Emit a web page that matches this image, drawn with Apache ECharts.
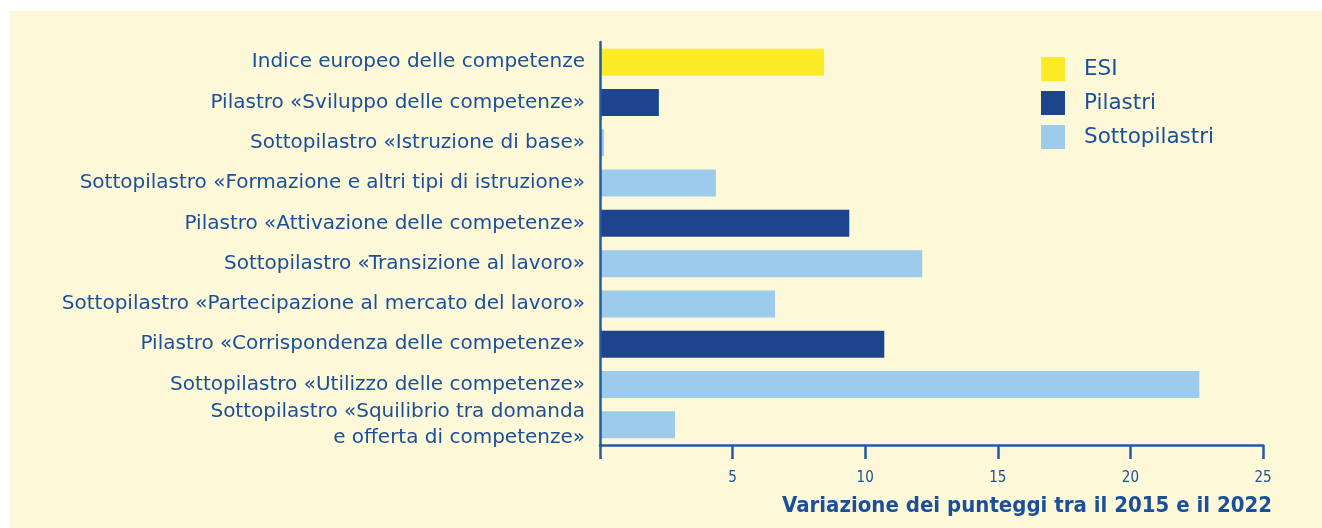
<!DOCTYPE html>
<html>
<head>
<meta charset="utf-8">
<script src="https://cdn.jsdelivr.net/npm/echarts@6/dist/echarts.min.js"></script>
<style>
  html, body { margin:0; padding:0; background:#ffffff; width:1322px; height:528px; overflow:hidden; }
  #bg { position:absolute; left:10px; top:11px; width:1312px; height:517px; background:#fdf9d8; }
  #chart { position:absolute; left:0; top:0; width:1322px; height:528px; }
</style>
</head>
<body>
<div id="bg"></div>
<div id="chart"></div>
<script>
const categories = [
  'Indice europeo delle competenze',
  'Pilastro «Sviluppo delle competenze»',
  'Sottopilastro «Istruzione di base»',
  'Sottopilastro «Formazione e altri tipi di istruzione»',
  'Pilastro «Attivazione delle competenze»',
  'Sottopilastro «Transizione al lavoro»',
  'Sottopilastro «Partecipazione al mercato del lavoro»',
  'Pilastro «Corrispondenza delle competenze»',
  'Sottopilastro «Utilizzo delle competenze»',
  'Sottopilastro «Squilibrio tra domanda\ne offerta di competenze»'
];
const values = [8.45, 2.22, 0.15, 4.37, 9.4, 12.15, 6.6, 10.72, 22.6, 2.83];
const groups = ['ESI', 'Pilastri', 'Sottopilastri', 'Sottopilastri', 'Pilastri', 'Sottopilastri', 'Sottopilastri', 'Pilastri', 'Sottopilastri', 'Sottopilastri'];
const seriesNames = ['ESI', 'Pilastri', 'Sottopilastri'];
const seriesColors = ['#fbec27', '#1f448e', '#9ccbec'];
const xTicks = [0, 5, 10, 15, 20, 25];
const axisTitle = 'Variazione dei punteggi tra il 2015 e il 2022';

const textColor = '#1a4f9c';
const axisColor = '#2459a6';
const font = '"DejaVu Sans", "Liberation Sans", sans-serif';
const fontCond = '"DejaVu Sans Condensed", "DejaVu Sans", sans-serif';

const chart = echarts.init(document.getElementById('chart'), null, { renderer: 'canvas' });

const series = seriesNames.map((name, si) => ({
  name: name,
  type: 'bar',
  stack: 'all',
  barWidth: 27,
  itemStyle: { color: seriesColors[si] },
  data: values.map((v, i) => groups[i] === name ? v : '-'),
  z: 1
}));

chart.setOption({
  backgroundColor: 'transparent',
  animation: false,
  textStyle: { fontFamily: font },
  title: {
    text: axisTitle,
    right: 45,
    top: 490,
    padding: 5,
    textStyle: { fontFamily: fontCond, fontSize: 22, fontWeight: 'bold', color: textColor }
  },
  legend: {
    orient: 'vertical',
    left: 1041,
    top: 57,
    padding: 0,
    itemWidth: 24,
    itemHeight: 24,
    itemGap: 10,
    icon: 'rect',
    data: seriesNames,
    textStyle: { fontFamily: font, fontSize: 21.5, color: textColor, padding: [0, 0, 0, 14] }
  },
  grid: { left: 600, right: 59, top: 42, bottom: 83, containLabel: false },
  xAxis: {
    type: 'value',
    min: 0,
    max: 25,
    interval: 5,
    z: 10,
    axisLine: { show: true, lineStyle: { color: axisColor, width: 2.5 } },
    axisTick: { show: true, length: 14, lineStyle: { color: axisColor, width: 2.5 } },
    splitLine: { show: false },
    axisLabel: {
      margin: 26,
      fontFamily: fontCond,
      fontSize: 15,
      color: textColor,
      formatter: v => (xTicks.includes(v) && v !== 0) ? String(v) : ''
    }
  },
  yAxis: {
    type: 'category',
    inverse: true,
    data: categories,
    z: 10,
    axisLine: { show: true, lineStyle: { color: axisColor, width: 2.5 } },
    axisTick: { show: false },
    splitLine: { show: false },
    axisLabel: {
      margin: 15,
      fontFamily: font,
      fontSize: 20,
      color: textColor,
      align: 'right',
      lineHeight: 26
    }
  },
  series: series
});
</script>
</body>
</html>
